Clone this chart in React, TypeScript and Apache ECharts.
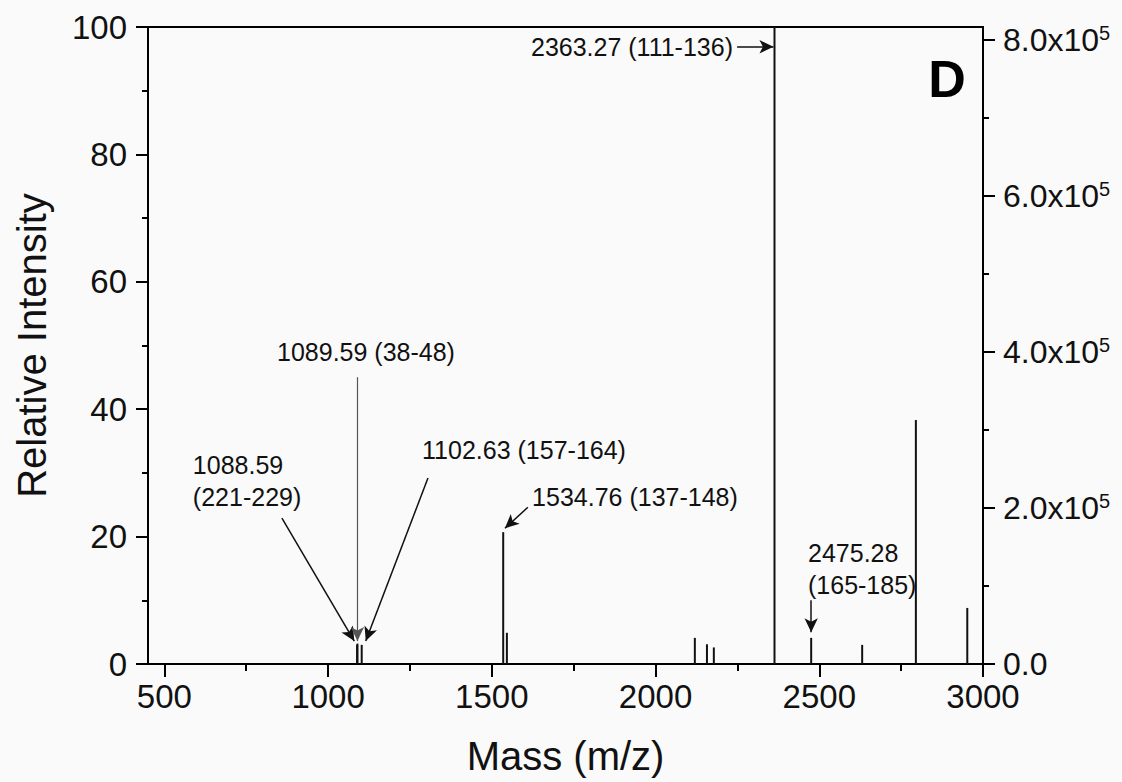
import React, { useEffect, useRef } from "react";
import * as echarts from "echarts";

// Peaks: m/z and relative intensity (%)
const peakMz = [1088.59, 1089.59, 1102.63, 1534.76, 1546, 2120, 2157, 2178, 2363.27, 2475.28, 2631, 2795, 2952];
const peakIntensity = [3.0, 3.2, 3.0, 20.7, 4.9, 4.1, 3.1, 2.6, 100, 4.1, 3.0, 38.3, 8.8];

// Axis ticks
const xMajorTicks = [500, 1000, 1500, 2000, 2500, 3000];
const xMinorTicks = [750, 1250, 1750, 2250, 2750];
const rightMajorTicks = [0, 200000, 400000, 600000, 800000];
const rightMinorTicks = [100000, 300000, 500000, 700000];

// Annotation texts: [m/z, intensity, text, align]
const annotationTexts: [number, number, string, string][] = [
  [2236.5, 96.9, "2363.27 (111-136)", "right"],
  [844, 49.0, "1089.59 (38-48)", "left"],
  [587, 28.7, "1088.59\n(221-229)", "left"],
  [1287, 33.6, "1102.63 (157-164)", "left"],
  [1623, 26.2, "1534.76 (137-148)", "left"],
  [2465.6, 14.9, "2475.28\n(165-185)", "left"],
];

// Annotation arrows: [fromMz, fromI, toMz, toI]
const arrows: [number, number, number, number][] = [
  [2249, 96.9, 2360, 96.9],
  [859, 22.9, 1080, 3.6],
  [1305, 29.2, 1115, 3.6],
  [1610, 24.6, 1540, 21.3],
  [2475.28, 10.0, 2475.28, 5.0],
];
const grayArrow: [number, number, number, number] = [1089.59, 45.0, 1089.59, 3.6];

const panelLabel: [number, number, string] = [2890, 91.8, "D"];

const FONT = "'Liberation Sans', Arial, Helvetica, sans-serif";

export default function App() {
  const ref = useRef<HTMLDivElement>(null);
  useEffect(() => {
    document.body.style.margin = "0";
    const chart = echarts.init(ref.current!, null, { renderer: "svg" });
    const rightMax = 816700;
    const option: any = {
      animation: false,
      backgroundColor: "#fafafa",
      textStyle: { fontFamily: FONT },
      grid: {
        left: 148,
        right: 139,
        top: 27,
        bottom: 118,
        show: true,
        borderColor: "#000",
        borderWidth: 2,
        backgroundColor: "transparent",
      },
      xAxis: [
        {
          type: "value",
          min: 450,
          max: 3000,
          name: "Mass (m/z)",
          nameLocation: "middle",
          nameGap: 72,
          nameTextStyle: { fontSize: 40, color: "#111", fontFamily: FONT },
          axisLine: { show: true, lineStyle: { color: "#000", width: 2 } },
          axisTick: { show: true, customValues: xMajorTicks, length: 13, lineStyle: { color: "#000", width: 2 } },
          axisLabel: {
            show: true,
            customValues: xMajorTicks,
            margin: 16,
            fontSize: 33,
            color: "#111",
            fontFamily: FONT,
            formatter: (v: number) => String(v),
          },
          splitLine: { show: false },
        },
        {
          type: "value",
          min: 450,
          max: 3000,
          position: "bottom",
          axisLine: { show: false },
          axisTick: { show: true, customValues: xMinorTicks, length: 7, lineStyle: { color: "#000", width: 2 } },
          axisLabel: { show: false },
          splitLine: { show: false },
        },
      ],
      yAxis: [
        {
          type: "value",
          min: 0,
          max: 100,
          interval: 20,
          position: "left",
          name: "Relative Intensity",
          nameLocation: "middle",
          nameGap: 96,
          nameTextStyle: { fontSize: 40, color: "#111", fontFamily: FONT },
          axisLine: { show: true, lineStyle: { color: "#000", width: 2 } },
          axisTick: { show: true, length: 12, lineStyle: { color: "#000", width: 2 } },
          minorTick: { show: true, splitNumber: 2, length: 6, lineStyle: { color: "#000", width: 2 } },
          axisLabel: { margin: 21, fontSize: 33, color: "#111", fontFamily: FONT },
          splitLine: { show: false },
          minorSplitLine: { show: false },
        },
        {
          type: "value",
          min: 0,
          max: rightMax,
          position: "right",
          axisLine: { show: true, lineStyle: { color: "#000", width: 2 } },
          axisTick: { show: true, customValues: rightMajorTicks, length: 12, lineStyle: { color: "#000", width: 2 } },
          axisLabel: {
            customValues: rightMajorTicks,
            margin: 20,
            fontFamily: FONT,
            formatter: (v: number) => (v === 0 ? "{a|0.0}" : `{a|${(v / 1e5).toFixed(1)}x10}{b|5}`),
            rich: {
              a: { fontSize: 32, color: "#111", fontFamily: FONT, lineHeight: 34 },
              b: { fontSize: 20, color: "#111", fontFamily: FONT, verticalAlign: "top", lineHeight: 20, padding: [0, 0, 16, 0] },
            },
          },
          splitLine: { show: false },
        },
        {
          type: "value",
          min: 0,
          max: rightMax,
          position: "right",
          axisLine: { show: false },
          axisTick: { show: true, customValues: rightMinorTicks, length: 6, lineStyle: { color: "#000", width: 2 } },
          axisLabel: { show: false },
          splitLine: { show: false },
        },
      ],
      series: [
        {
          type: "bar",
          xAxisIndex: 0,
          yAxisIndex: 0,
          barWidth: 2,
          itemStyle: { color: "#111" },
          data: peakMz.map((m, i) => [m, peakIntensity[i]]),
          markLine: {
            silent: true,
            symbol: ["none", "arrow"],
            symbolSize: [10, 14],
            label: { show: false },
            lineStyle: { color: "#111", width: 1.5, type: "solid" },
            data: [
              ...arrows.map((a) => [{ coord: [a[0], a[1]] }, { coord: [a[2], a[3]] }]),
              [
                { coord: [grayArrow[0], grayArrow[1]], lineStyle: { color: "#555", width: 1.2 } },
                { coord: [grayArrow[2], grayArrow[3]] },
              ],
            ],
          },
        },
        {
          type: "scatter",
          xAxisIndex: 0,
          yAxisIndex: 0,
          symbolSize: 0,
          silent: true,
          itemStyle: { opacity: 1 },
          data: annotationTexts.map((t) => ({
            value: [t[0], t[1]],
            label: {
              show: true,
              formatter: t[2],
              position: [0, 0],
              align: t[3],
              verticalAlign: "middle",
              fontSize: 25,
              lineHeight: 32,
              color: "#111",
              opacity: 1,
              fontFamily: FONT,
            },
          })),
        },
        {
          type: "scatter",
          xAxisIndex: 0,
          yAxisIndex: 0,
          symbolSize: 0,
          silent: true,
          itemStyle: { opacity: 1 },
          data: [
            {
              value: [panelLabel[0], panelLabel[1]],
              label: {
                show: true,
                formatter: panelLabel[2],
                position: [0, 0],
                align: "center",
                verticalAlign: "middle",
                fontSize: 52,
                fontWeight: 900,
                color: "#000",
                opacity: 1,
                fontFamily: FONT,
              },
            },
          ],
        },
      ],
    };
    chart.setOption(option);
    return () => chart.dispose();
  }, []);
  return <div ref={ref} style={{ width: 1122, height: 782 }} />;
}
